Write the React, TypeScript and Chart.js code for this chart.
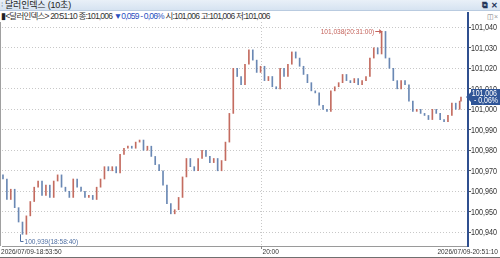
import React, { useEffect, useRef } from 'react';
import { Chart, registerables } from 'chart.js';

Chart.register(...registerables);

// ---- data ----
const TITLE = '달러인덱스 (10초)';
const START_LABEL = '2026/07/09-18:53:50';
const END_LABEL = '2026/07/09-20:51:10';
const MID_TICK_LABEL = '20:00';
const MID_TICK_SEC = 3970; // seconds after 18:53:50
const TOTAL_SEC = 7040;
const STEP_SEC = 60;

const FIRST_OPEN = 100.968;
const CLOSES = [
  100.966, 100.956, 100.961, 100.952, 100.945, 100.939, 100.948, 100.955, 100.962, 100.965,
  100.958, 100.963, 100.957, 100.965, 100.968, 100.962, 100.960, 100.957, 100.966, 100.962,
  100.960, 100.957, 100.958, 100.956, 100.962, 100.966, 100.972, 100.970, 100.972, 100.969,
  100.978, 100.981, 100.982, 100.981, 100.984, 100.985, 100.980, 100.982, 100.977, 100.973,
  100.970, 100.963, 100.954, 100.949, 100.951, 100.957, 100.967, 100.976, 100.972, 100.970,
  100.976, 100.980, 100.977, 100.974, 100.976, 100.970, 100.975, 100.984, 100.998, 101.020,
  101.016, 101.012, 101.022, 101.029, 101.024, 101.018, 101.021, 101.014, 101.016, 101.011,
  101.010, 101.020, 101.016, 101.022, 101.028, 101.025, 101.021, 101.017, 101.013, 101.009,
  101.008, 101.002, 101.000, 100.999, 101.009, 101.011, 101.013, 101.017, 101.014, 101.013,
  101.015, 101.012, 101.014, 101.016, 101.025, 101.030, 101.027, 101.038, 101.025, 101.020,
  101.014, 101.010, 101.014, 101.012, 101.004, 100.999, 101.000, 100.998, 100.997, 100.995,
  101.000, 100.998, 100.995, 100.994, 100.997, 101.003, 101.000, 101.004,
  101.006,
];

const Y_TICKS = [100.94, 100.95, 100.96, 100.97, 100.98, 100.99, 101.0, 101.01, 101.02, 101.03, 101.04];
const Y_MIN = 100.9333;
const Y_MAX = 101.0426;

const CURRENT_VALUE = 101.006;
const CURRENT_TEXT = '101,006';
const CURRENT_PCT = '- 0,06%';

const MAX_VALUE = 101.038;
const MAX_SEC = 5830;
const MAX_LABEL = '101,038(20:31:00)';
const MIN_VALUE = 100.939;
const MIN_SEC = 290;
const MIN_LABEL = '100,939(18:58:40)';

const HEADER_PARTS = [
  { text: '<달러인덱스> 20:51:10 종:101,006 ', color: '#333' },
  { text: '▼0,059 - 0,06%', color: '#2a4fc0' },
  { text: ' 시:101,006 고:101,006 저:101,006', color: '#333' },
];

const UP_COLOR = '#c46c60';
const DOWN_COLOR = '#6a88b4';
const CANVAS_FONT = "'Liberation Sans', Arial, sans-serif";

const fmt = (v: number) => v.toFixed(3).replace('.', ',');

function drawText(
  ctx: CanvasRenderingContext2D,
  text: string,
  x: number,
  y: number,
  align: 'left' | 'right' | 'center',
  size: number,
  sx: number,
  color: string
) {
  ctx.save();
  ctx.font = `${size}px ${CANVAS_FONT}`;
  ctx.textBaseline = 'middle';
  ctx.textAlign = 'left';
  ctx.fillStyle = color;
  const w = ctx.measureText(text).width * sx;
  const left = align === 'left' ? x : align === 'right' ? x - w : x - w / 2;
  ctx.translate(left, y);
  ctx.scale(sx, 1);
  ctx.fillText(text, 0, 0);
  ctx.restore();
  return w;
}

export default function App() {
  const ref = useRef<HTMLCanvasElement | null>(null);

  useEffect(() => {
    document.body.style.margin = '0';
    const canvas = ref.current;
    if (!canvas) return;

    const times = CLOSES.map((_, i) => (i === CLOSES.length - 1 ? TOTAL_SEC : i * STEP_SEC));
    const opens = CLOSES.map((_, i) => (i === 0 ? FIRST_OPEN : CLOSES[i - 1]));
    const data = CLOSES.map((c, i) => ({ x: times[i], y: [opens[i], c] }));
    const colors = CLOSES.map((c, i) => (c >= opens[i] ? UP_COLOR : DOWN_COLOR));

    const overlay = {
      id: 'overlay',
      afterDraw(chart: any) {
        const { ctx, chartArea: ca } = chart;
        const xs = chart.scales.x;
        const ys = chart.scales.y;
        ctx.save();
        // left border
        ctx.strokeStyle = '#a0a0a0';
        ctx.lineWidth = 1;
        ctx.beginPath();
        ctx.moveTo(0.5, 0);
        ctx.lineTo(0.5, ca.bottom);
        ctx.stroke();
        // bottom window line
        ctx.strokeStyle = '#707070';
        ctx.beginPath();
        ctx.moveTo(0, chart.height - 0.5);
        ctx.lineTo(chart.width, chart.height - 0.5);
        ctx.stroke();

        // y labels
        Y_TICKS.forEach((v) => {
          const py = ys.getPixelForValue(v);
          drawText(ctx, fmt(v), ca.right + 3, py + 0.5, 'left', 9, 0.8, '#333');
        });

        // x labels
        const ly = ca.bottom + 6;
        drawText(ctx, START_LABEL, 1, ly, 'left', 8, 0.82, '#333');
        drawText(ctx, END_LABEL, chart.width - 2, ly, 'right', 8, 0.82, '#333');
        const mx = Math.round(xs.getPixelForValue(MID_TICK_SEC)) + 0.5;
        drawText(ctx, MID_TICK_LABEL, mx + 1, ly, 'left', 8, 0.82, '#333');
        ctx.strokeStyle = '#888';
        ctx.beginPath();
        ctx.moveTo(mx, ca.bottom);
        ctx.lineTo(mx, ca.bottom + 3);
        ctx.stroke();

        // max annotation
        const hx = xs.getPixelForValue(MAX_SEC);
        const hy = Math.round(ys.getPixelForValue(MAX_VALUE)) + 0.5;
        drawText(ctx, MAX_LABEL, hx - 8, hy + 0.5, 'right', 8, 0.82, '#c4625a');
        ctx.strokeStyle = '#c4625a';
        ctx.fillStyle = '#c4625a';
        ctx.beginPath();
        ctx.moveTo(hx - 7, hy);
        ctx.lineTo(hx, hy);
        ctx.stroke();
        ctx.beginPath();
        ctx.moveTo(hx, hy);
        ctx.lineTo(hx - 3, hy - 2.5);
        ctx.lineTo(hx - 3, hy + 2.5);
        ctx.closePath();
        ctx.fill();

        // min annotation
        const lx = Math.round(xs.getPixelForValue(MIN_SEC)) - 1.5;
        const lyv = ys.getPixelForValue(MIN_VALUE);
        const ty = Math.round(lyv + 7) + 0.5;
        drawText(ctx, MIN_LABEL, lx + 4, ty, 'left', 8, 0.82, '#4f6fa3');
        ctx.strokeStyle = '#4f6fa3';
        ctx.beginPath();
        ctx.moveTo(lx, lyv);
        ctx.lineTo(lx, ty);
        ctx.lineTo(lx + 3, ty);
        ctx.stroke();

        // current value box
        const cy = Math.round(ys.getPixelForValue(CURRENT_VALUE));
        const bx = ca.right + 3;
        ctx.fillStyle = '#2f5597';
        ctx.beginPath();
        ctx.moveTo(ca.right - 2, cy);
        ctx.lineTo(bx, cy - 5);
        ctx.lineTo(bx, cy - 8);
        ctx.lineTo(chart.width, cy - 8);
        ctx.lineTo(chart.width, cy + 8);
        ctx.lineTo(bx, cy + 8);
        ctx.lineTo(bx, cy + 5);
        ctx.closePath();
        ctx.fill();
        drawText(ctx, CURRENT_TEXT, chart.width - 3, cy - 3.5, 'right', 8.5, 0.82, '#ffffff');
        drawText(ctx, CURRENT_PCT, chart.width - 2, cy + 4, 'right', 8.5, 0.82, '#ffffff');
        ctx.restore();
      },
    };

    const chart = new Chart(canvas, {
      type: 'bar',
      data: {
        datasets: [
          {
            data: data as any,
            backgroundColor: colors,
            borderWidth: 0,
            barThickness: 1,
            minBarLength: 1,
          } as any,
        ],
      },
      options: {
        animation: false,
        responsive: false,
        devicePixelRatio: 1,
        events: [],
        layout: { padding: { left: 2, right: 0, top: 0, bottom: 0 } },
        plugins: { legend: { display: false }, tooltip: { enabled: false } },
        scales: {
          x: {
            type: 'linear',
            min: -15,
            max: 7148,
            offset: false,
            afterBuildTicks: (s: any) => {
              s.ticks = [{ value: MID_TICK_SEC }];
            },
            afterFit: (s: any) => {
              s.height = 12;
              s.paddingLeft = 0;
              s.paddingRight = 0;
            },
            ticks: { display: false },
            grid: { color: '#c8c8c8', drawTicks: false, offset: false },
            border: { display: true, color: '#9a9a9a', width: 1, dash: [1, 2] },
          },
          y: {
            type: 'linear',
            position: 'right',
            min: Y_MIN,
            max: Y_MAX,
            afterBuildTicks: (s: any) => {
              s.ticks = Y_TICKS.map((v) => ({ value: v }));
            },
            afterFit: (s: any) => {
              s.width = 32;
              s.paddingTop = 0;
              s.paddingBottom = 0;
            },
            ticks: { display: false },
            grid: {
              color: '#c8c8c8',
              drawTicks: true,
              tickLength: 3,
              tickColor: '#555',
              tickBorderDash: [3, 0],
            },
            border: { display: true, color: '#2f4f8f', width: 2, dash: [1, 2] },
          },
        },
      } as any,
      plugins: [overlay],
    });

    return () => chart.destroy();
  }, []);

  return (
    <div
      style={{
        position: 'relative',
        width: 500,
        height: 258,
        overflow: 'hidden',
        background: '#fff',
        fontFamily: "'Liberation Sans', 'Noto Sans CJK KR', sans-serif",
      }}
    >
      <div
        style={{
          position: 'absolute',
          left: 0,
          top: 0,
          width: 500,
          height: 10,
          background: 'linear-gradient(#e9f0f8, #d6e3f1)',
          borderBottom: '1px solid #b9cbe0',
        }}
      >
        <span style={{ position: 'absolute', left: 1, top: 0, fontSize: 8, lineHeight: '10px', color: '#8899aa' }}>⁞</span>
        <span
          style={{
            position: 'absolute',
            left: 5,
            top: 0,
            fontSize: 9,
            letterSpacing: '-0.2px',
            lineHeight: '11px',
            color: '#222',
            whiteSpace: 'nowrap',
          }}
        >
          {TITLE}
        </span>
        <span style={{ position: 'absolute', left: 482, top: 0, fontSize: 8, lineHeight: '11px', color: '#24365a', fontWeight: 'bold' }}>⧉</span>
        <span style={{ position: 'absolute', left: 491, top: 0, fontSize: 8, lineHeight: '11px', color: '#24365a', fontWeight: 'bold' }}>✕</span>
      </div>
      <div
        style={{
          position: 'absolute',
          left: 1,
          top: 11,
          height: 11,
          fontSize: 8.5,
          letterSpacing: '-0.8px',
          lineHeight: '11px',
          whiteSpace: 'nowrap',
          color: '#333',
        }}
      >
        <span style={{ color: '#222' }}>▮</span>
        {HEADER_PARTS.map((p, i) => (
          <span key={i} style={{ color: p.color }}>
            {p.text}
          </span>
        ))}
      </div>
      <span style={{ position: 'absolute', left: 487, top: 12, fontSize: 7, lineHeight: '9px', color: '#777' }}>◫</span>
      <span style={{ position: 'absolute', left: 494, top: 12, fontSize: 7, lineHeight: '9px', color: '#999' }}>×</span>
      <div style={{ position: 'absolute', left: 467, top: 12, width: 2, height: 10, background: '#2f4f8f' }} />
      <canvas
        ref={ref}
        width={500}
        height={236}
        style={{ position: 'absolute', left: 0, top: 22, width: 500, height: 236, display: 'block' }}
      />
    </div>
  );
}
